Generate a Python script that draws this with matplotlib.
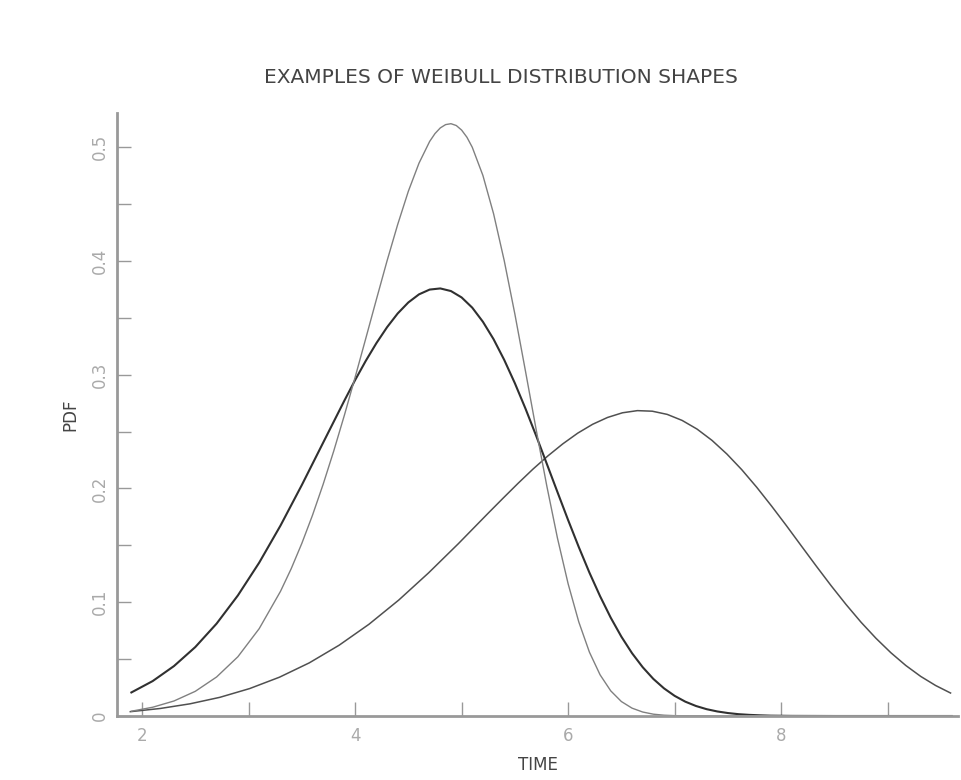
import matplotlib
matplotlib.use("Agg")
import matplotlib.pyplot as plt
from matplotlib.ticker import MultipleLocator, FuncFormatter

# values (three Weibull pdf shapes)
time_narrow = [1.9, 2.1, 2.3, 2.5, 2.7, 2.9, 3.1, 3.3, 3.4, 3.5, 3.6, 3.7, 3.8, 3.9,
               4.0, 4.1, 4.2, 4.3, 4.4, 4.5, 4.6, 4.7, 4.75, 4.8, 4.85, 4.9, 4.95, 5.0, 5.05,
               5.1, 5.2, 5.3, 5.4, 5.5, 5.6, 5.7, 5.8, 5.9, 6.0, 6.1,
               6.2, 6.3, 6.4, 6.5, 6.6, 6.7, 6.8, 6.9, 7.0, 7.5, 9.6]
pdf_narrow = [0.0042, 0.0077, 0.0132, 0.0217, 0.0343, 0.0521, 0.0768, 0.1096, 0.1294, 0.1517, 0.1764, 0.2036, 0.2330, 0.2645,
              0.2976, 0.3317, 0.3661, 0.4000, 0.4320, 0.4612, 0.4859, 0.5050, 0.5119, 0.5169, 0.5198, 0.5206, 0.5190, 0.5150, 0.5087,
              0.4999, 0.4751, 0.4415, 0.4003, 0.3533, 0.3029, 0.2517, 0.2021, 0.1563, 0.1162, 0.0827,
              0.0561, 0.0362, 0.0221, 0.0127, 0.0069, 0.0035, 0.0016, 0.0007, 0.0003, 0.0, 0.0]

time_mid = [1.9, 2.1, 2.3, 2.5, 2.7, 2.9, 3.1, 3.3, 3.5, 3.7, 3.9,
            4.0, 4.1, 4.2, 4.3, 4.4, 4.5, 4.6, 4.7, 4.8, 4.9, 5.0,
            5.1, 5.2, 5.3, 5.4, 5.5, 5.6, 5.7, 5.8, 5.9, 6.0,
            6.1, 6.2, 6.3, 6.4, 6.5, 6.6, 6.7, 6.8, 6.9, 7.0,
            7.1, 7.2, 7.3, 7.4, 7.5, 7.6, 7.7, 7.8, 7.9, 8.0, 8.1, 8.5, 9.6]
pdf_mid = [0.0207, 0.0307, 0.0439, 0.0606, 0.0812, 0.1060, 0.1348, 0.1674, 0.2030, 0.2402, 0.2773,
           0.2952, 0.3121, 0.3277, 0.3417, 0.3538, 0.3635, 0.3706, 0.3748, 0.3758, 0.3735, 0.3679,
           0.3589, 0.3465, 0.3312, 0.3130, 0.2925, 0.2701, 0.2463, 0.2216, 0.1968, 0.1722,
           0.1485, 0.1260, 0.1053, 0.0864, 0.0697, 0.0552, 0.0429, 0.0326, 0.0243, 0.0177,
           0.0126, 0.0088, 0.0060, 0.0040, 0.0026, 0.0016, 0.0010, 0.0006, 0.0003, 0.0002, 0.0001, 0.0, 0.0]

time_wide = [1.89, 2.17, 2.45, 2.73, 3.01, 3.29, 3.57, 3.85, 4.13, 4.41, 4.69, 4.97, 5.25,
             5.39, 5.53, 5.67, 5.81, 5.95, 6.09, 6.23, 6.37, 6.51, 6.65, 6.79, 6.93, 7.07, 7.21,
             7.35, 7.49, 7.63, 7.77, 7.91, 8.05, 8.19, 8.33, 8.47, 8.61, 8.75, 8.89, 9.03, 9.17,
             9.31, 9.45, 9.59]
pdf_wide = [0.0038, 0.0066, 0.0107, 0.0164, 0.0241, 0.0341, 0.0467, 0.0622, 0.0806, 0.1019, 0.1258, 0.1515, 0.1783,
            0.1915, 0.2045, 0.2170, 0.2286, 0.2392, 0.2486, 0.2564, 0.2624, 0.2665, 0.2684, 0.2679, 0.2651, 0.2598, 0.2522,
            0.2423, 0.2303, 0.2165, 0.2011, 0.1845, 0.1672, 0.1494, 0.1317, 0.1144, 0.0979, 0.0824, 0.0683, 0.0556, 0.0444,
            0.0348, 0.0268, 0.0202]

fig = plt.figure(figsize=(9.61, 7.8), dpi=100)
ax = fig.add_axes([117 / 961, 64 / 780, 841 / 961, 603 / 780])

ax.plot(time_wide, pdf_wide, color='#505050', lw=1.1)
ax.plot(time_mid, pdf_mid, color='#303030', lw=1.5)
ax.plot(time_narrow, pdf_narrow, color='#808080', lw=1.0)

ax.set_xlim(1.765, 9.66)
ax.set_ylim(0, 0.53)

for side in ['top', 'right']:
    ax.spines[side].set_visible(False)
for side in ['left', 'bottom']:
    ax.spines[side].set_color('#999999')
    ax.spines[side].set_linewidth(2)

ax.xaxis.set_major_locator(MultipleLocator(2))
ax.xaxis.set_minor_locator(MultipleLocator(1))
ax.yaxis.set_major_locator(MultipleLocator(0.1))
ax.yaxis.set_minor_locator(MultipleLocator(0.05))
ax.xaxis.set_major_formatter(FuncFormatter(lambda v, p: f"{v:g}"))
ax.yaxis.set_major_formatter(FuncFormatter(lambda v, p: "0" if v == 0 else f"{v:.1f}"))

ax.tick_params(which='both', direction='in', length=10, width=1, color='#999999')
ax.tick_params(axis='x', which='major', labelsize=12, labelcolor='#aaaaaa', pad=8)
ax.tick_params(axis='y', which='major', labelsize=12, labelcolor='#aaaaaa', pad=6, labelrotation=90)
for lab in ax.get_yticklabels():
    lab.set_va('center')

ax.set_xlabel('TIME', fontsize=12, color='#444444', labelpad=8)
ax.set_ylabel('PDF', fontsize=12, color='#444444', labelpad=8)

fig.text(0.521, 0.901, 'EXAMPLES OF WEIBULL DISTRIBUTION SHAPES',
         ha='center', va='center', fontsize=14.5, color='#444444')

fig.savefig('out.png', dpi=100)
